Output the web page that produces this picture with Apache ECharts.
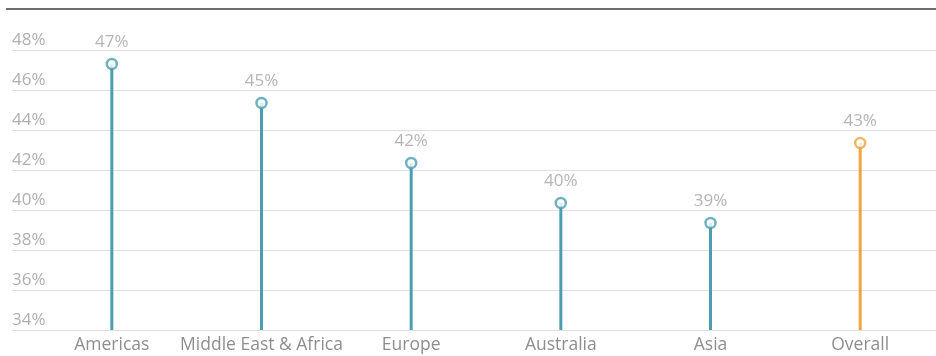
<!DOCTYPE html>
<html>
<head>
<meta charset="utf-8">
<script src="https://cdn.jsdelivr.net/npm/echarts@6/dist/echarts.min.js"></script>
<style>
html,body{margin:0;padding:0;background:#fff;}
#c{width:936px;height:356px;}
</style>
</head>
<body>
<div id="c"></div>
<script>
const categories = ['Americas', 'Middle East & Africa', 'Europe', 'Australia', 'Asia', 'Overall'];
const values = [47.3, 45.35, 42.35, 40.35, 39.35, 43.35];
const yMin = 34, yMax = 48, yStep = 2;

const TEAL = '#4c9db2';
const ORANGE = '#f2a43c';
const colorFor = (name) => name === 'Overall' ? ORANGE : TEAL;

const chart = echarts.init(document.getElementById('c'), null, {renderer: 'canvas'});
const fontFamily = '"Open Sans", "Liberation Sans", sans-serif';

chart.setOption({
  animation: false,
  backgroundColor: '#fff',
  graphic: [{
    type: 'rect',
    shape: {x: 6, y: 8, width: 930, height: 2},
    style: {fill: '#6e6e6e'}
  }],
  grid: [
    {left: 12, right: 0, top: 50, bottom: 26},
    {left: 37, right: 1, top: 50, bottom: 26}
  ],
  xAxis: [
    {gridIndex: 0, type: 'value', show: false, min: 0, max: 1},
    {
      gridIndex: 1, type: 'category', data: categories,
      axisLine: {show: false}, axisTick: {show: false},
      axisLabel: {color: '#8e8e8e', fontSize: 17.5, fontFamily, margin: 6, interval: 0}
    }
  ],
  yAxis: [
    {
      gridIndex: 0, type: 'value', min: yMin, max: yMax, interval: yStep,
      axisLine: {show: false}, axisTick: {show: false},
      splitLine: {lineStyle: {color: '#e0e0e0', width: 1}},
      axisLabel: {
        inside: true, margin: 0, color: '#b0b0b0', fontSize: 17, fontFamily,
        verticalAlign: 'bottom', padding: [0, 0, 1, 0],
        formatter: v => v + '%'
      }
    },
    {
      gridIndex: 1, type: 'value', min: yMin, max: yMax, interval: yStep,
      show: false
    }
  ],
  series: [
    {
      type: 'bar', xAxisIndex: 1, yAxisIndex: 1,
      barWidth: 3, clip: true,
      data: values.map((v, i) => ({value: v, itemStyle: {color: colorFor(categories[i])}})),
      silent: true
    },
    {
      type: 'scatter', xAxisIndex: 1, yAxisIndex: 1,
      symbol: 'circle', symbolSize: 10,
      data: values.map((v, i) => ({
        value: v,
        itemStyle: {color: '#fff', borderColor: colorFor(categories[i]), borderWidth: 2.5}
      })),
      label: {
        show: true, position: 'top', distance: 7,
        color: '#a2a2a2', fontSize: 17, fontFamily,
        formatter: p => Math.round(p.value) + '%'
      },
      z: 5
    }
  ]
});
</script>
</body>
</html>
